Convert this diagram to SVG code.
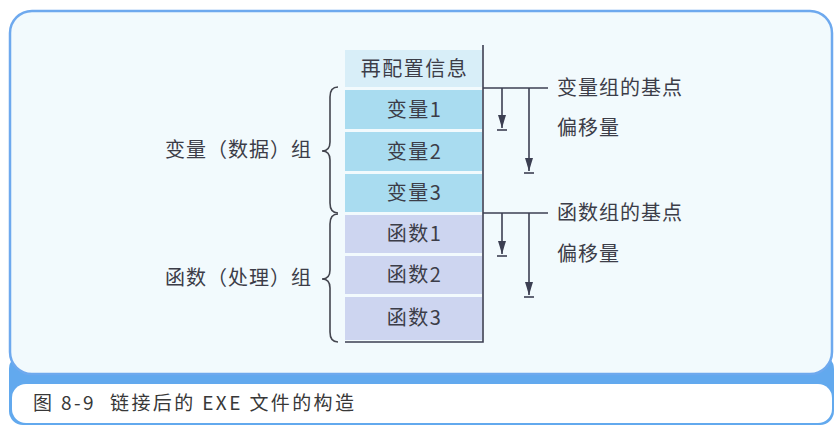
<svg xmlns="http://www.w3.org/2000/svg" width="836" height="425" viewBox="0 0 836 425">
  <style>
    text { font-family: "Noto Sans CJK SC", "Noto Sans", sans-serif; fill: #3c3d48; }
    .cell { font-size: 20px; letter-spacing: 1.5px; text-anchor: middle; }
    .lbl { font-size: 20px; letter-spacing: 1px; }
    .cap { font-size: 19px; letter-spacing: 2.4px; fill: #383838; }
    .top { fill: #d8eef8; }
    .var { fill: #a9dcf0; }
    .fn { fill: #cdd5f0; }
    .ln { stroke: #3c3f52; stroke-width: 1.6; fill: none; }
    .br { stroke: #44464f; stroke-width: 1.6; fill: none; }
  </style>
  <defs>
    <marker id="ah" markerWidth="13" markerHeight="8" refX="13" refY="4" orient="auto" markerUnits="userSpaceOnUse">
      <path d="M0,0 L13,4 L0,8 z" fill="#3c3f52"/>
    </marker>
  </defs>

  <g id="frame">
    <rect x="9" y="355" width="825" height="70" rx="14" fill="#62a9ee"/>
    <rect x="10" y="11" width="822" height="363" rx="22" fill="#f2fafd" stroke="#6ea9ee" stroke-width="2.5"/>
    <rect x="12" y="384" width="820" height="39" rx="14" fill="#ffffff"/>
  </g>

  <g id="caption">
    <text class="cap" x="33" y="410">图 8-9<tspan x="110">链接后的 EXE 文件的构造</tspan></text>
  </g>

  <g id="node-reloc">
    <rect class="top" x="345" y="50" width="137" height="37"/>
    <text class="cell" x="414.5" y="76">再配置信息</text>
  </g>
  <g id="node-var1">
    <rect class="var" x="345" y="90" width="137" height="39"/>
    <text class="cell" x="414.5" y="117">变量1</text>
  </g>
  <g id="node-var2">
    <rect class="var" x="345" y="132" width="137" height="39"/>
    <text class="cell" x="414.5" y="159">变量2</text>
  </g>
  <g id="node-var3">
    <rect class="var" x="345" y="174" width="137" height="38"/>
    <text class="cell" x="414.5" y="200">变量3</text>
  </g>
  <g id="node-fn1">
    <rect class="fn" x="345" y="215" width="137" height="38"/>
    <text class="cell" x="414.5" y="241">函数1</text>
  </g>
  <g id="node-fn2">
    <rect class="fn" x="345" y="256" width="137" height="38"/>
    <text class="cell" x="414.5" y="282">函数2</text>
  </g>
  <g id="node-fn3">
    <rect class="fn" x="345" y="297" width="137" height="43"/>
    <text class="cell" x="414.5" y="325">函数3</text>
  </g>

  <g id="label-vargroup">
    <text class="lbl" x="165" y="157">变量（数据）组</text>
  </g>
  <g id="label-fngroup">
    <text class="lbl" x="165" y="285">函数（处理）组</text>
  </g>
  <g id="label-varbase">
    <text class="lbl" x="557" y="95">变量组的基点</text>
  </g>
  <g id="label-varoffset">
    <text class="lbl" x="557" y="135">偏移量</text>
  </g>
  <g id="label-fnbase">
    <text class="lbl" x="557" y="220">函数组的基点</text>
  </g>
  <g id="label-fnoffset">
    <text class="lbl" x="557" y="261">偏移量</text>
  </g>

  <g id="connectors">
    <path class="ln" d="M483,45 L483,342 L345,342"/>
    <path class="ln" d="M483,88 L548,88"/>
    <path class="ln" d="M502,88 L502,128" marker-end="url(#ah)"/>
    <path class="ln" d="M497,130 L507,130"/>
    <path class="ln" d="M529,88 L529,171" marker-end="url(#ah)"/>
    <path class="ln" d="M524,173 L534,173"/>
    <path class="ln" d="M483,213 L548,213"/>
    <path class="ln" d="M502,213 L502,254" marker-end="url(#ah)"/>
    <path class="ln" d="M497,256 L507,256"/>
    <path class="ln" d="M529,213 L529,295" marker-end="url(#ah)"/>
    <path class="ln" d="M524,297 L534,297"/>
    <path class="br" d="M338,87 Q330,87 330,97 L330,142 Q330,151 322,151 Q330,151 330,160 L330,203 Q330,213 338,213"/>
    <path class="br" d="M338,214 Q330,214 330,224 L330,270 Q330,279 322,279 Q330,279 330,288 L330,332 Q330,342 338,342"/>
  </g>
</svg>
